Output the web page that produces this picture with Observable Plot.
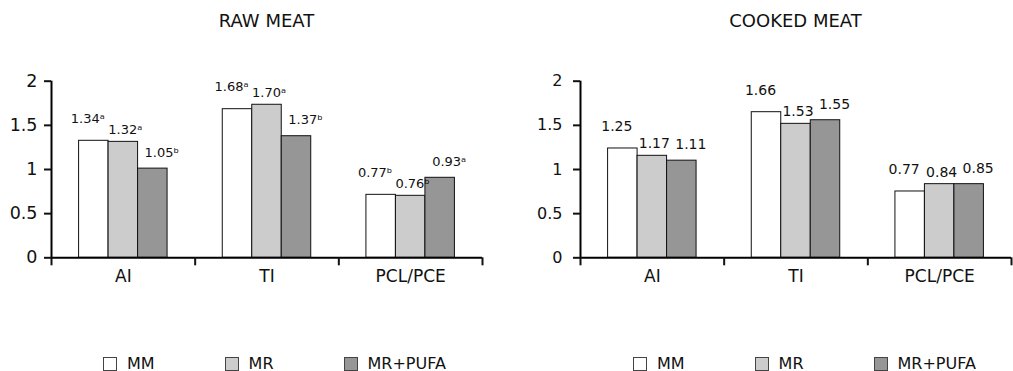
<!DOCTYPE html>
<html>
<head>
<meta charset="utf-8">
<script src="https://cdn.jsdelivr.net/npm/d3@7"></script>
<script src="https://cdn.jsdelivr.net/npm/@observablehq/plot@0.6"></script>
<style>
  html, body { margin: 0; padding: 0; background: #fff; }
  body { width: 1013px; height: 371px; position: relative; overflow: hidden; font-family: "DejaVu Sans", sans-serif; color: #111; }
  .panel { position: absolute; top: 0; height: 371px; }
  .title { position: absolute; top: 9px; left: 0; right: 0; text-align: center; font-size: 18px; line-height: 24px; white-space: nowrap; }
  .chart { position: absolute; top: 40px; left: 0; }
  .legend { position: absolute; top: 354px; display: flex; gap: 70px; font-size: 16px; line-height: 20px; white-space: nowrap; }
  .item { display: flex; align-items: center; }
  .sw { width: 12px; height: 12px; border: 1px solid #444; margin-right: 10px; box-sizing: content-box; }
</style>
</head>
<body>
<div id="root"></div>
<script>
// ---- data ----
const categories = ["AI", "TI", "PCL/PCE"];
const series = ["MM", "MR", "MR+PUFA"];
const seriesFills = ["#ffffff", "#cccccc", "#969696"];
const yTicks = [0, 0.5, 1, 1.5, 2];

// raw meat: bar heights
const rawMM = [1.325, 1.683, 0.713];
const rawMR = [1.313, 1.733, 0.702];
const rawPUFA = [1.01, 1.377, 0.906];
const rawLabelsMM = ["1.34ᵃ", "1.68ᵃ", "0.77ᵇ"];
const rawLabelsMR = ["1.32ᵃ", "1.70ᵃ", "0.76ᵇ"];
const rawLabelsPUFA = ["1.05ᵇ", "1.37ᵇ", "0.93ᵃ"];

// cooked meat
const cookedMM = [1.238, 1.649, 0.751];
const cookedMR = [1.155, 1.517, 0.834];
const cookedPUFA = [1.10, 1.558, 0.834];
const cookedLabelsMM = ["1.25", "1.66", "0.77"];
const cookedLabelsMR = ["1.17", "1.53", "0.84"];
const cookedLabelsPUFA = ["1.11", "1.55", "0.85"];

const panels = [
  {title: "RAW MEAT", values: [rawMM, rawMR, rawPUFA], labels: [rawLabelsMM, rawLabelsMR, rawLabelsPUFA],
   left: 0, width: 506, marginLeft: 51, marginRight: 24, tickPadding: 7, tickFont: 17.5, labelFont: 13, legendLeft: 103},
  {title: "COOKED MEAT", values: [cookedMM, cookedMR, cookedPUFA], labels: [cookedLabelsMM, cookedLabelsMR, cookedLabelsPUFA],
   left: 506, width: 507, marginLeft: 74, marginRight: 2, tickPadding: 11, tickFont: 16, labelFont: 14, legendLeft: 127}
];

const barW = 0.2053; // bar width in category units
const boundaries = [-0.5, 0.5, 1.5, 2.5];
// per-series label nudges (pixels), so neighbouring value labels do not collide
const labelDx = [-6, 2, 9];
const labelDy = [-22, -12, -16];
const root = document.getElementById("root");

for (const p of panels) {
  const rows = [];
  categories.forEach((c, i) => series.forEach((s, j) => rows.push({
    cat: c, i, j, series: s, value: p.values[j][i], label: p.labels[j][i]
  })));

  const div = document.createElement("div");
  div.className = "panel";
  div.style.left = p.left + "px";
  div.style.width = p.width + "px";
  root.appendChild(div);

  const t = document.createElement("div");
  t.className = "title";
  t.style.left = p.marginLeft + "px";
  t.style.right = p.marginRight + "px";
  t.textContent = p.title;
  div.appendChild(t);

  const labelMarks = series.map((s, j) => Plot.text(rows.filter(d => d.j === j), {
    x: d => d.i + (d.j - 1) * barW, y: "value", text: "label",
    dx: labelDx[j], dy: labelDy[j], fontSize: p.labelFont, fill: "#111"
  }));

  const chart = Plot.plot({
    width: p.width,
    height: 260,
    marginLeft: p.marginLeft,
    marginRight: p.marginRight,
    marginTop: 40.7,
    marginBottom: 42.7,
    x: {type: "linear", domain: [-0.5, 2.5], label: null},
    y: {domain: [0, 2], label: null},
    color: {domain: series, range: seriesFills},
    style: {fontFamily: "DejaVu Sans", background: "transparent", overflow: "visible", color: "#111"},
    marks: [
      Plot.rect(rows, {
        x1: d => d.i + (d.j - 1.5) * barW,
        x2: d => d.i + (d.j - 0.5) * barW,
        y1: 0, y2: "value",
        fill: "series", stroke: "#111", strokeWidth: 1
      }),
      ...labelMarks,
      Plot.ruleY([0], {stroke: "#000", strokeWidth: 2}),
      Plot.ruleX([-0.5], {stroke: "#000", strokeWidth: 2}),
      Plot.axisY({ticks: yTicks, tickSize: 7, tickPadding: p.tickPadding, tickFormat: d => String(d),
        fontSize: p.tickFont, strokeWidth: 2, label: null}),
      Plot.axisX({ticks: boundaries, tickSize: 8, tickFormat: () => "", strokeWidth: 2, label: null}),
      Plot.axisX({ticks: [0, 1, 2], tickSize: 0, tickPadding: 12, tickFormat: i => categories[i],
        fontSize: 17, label: null})
    ]
  });
  chart.classList.add("chart");
  div.appendChild(chart);

  const lg = document.createElement("div");
  lg.className = "legend";
  lg.style.left = (p.legendLeft) + "px";
  series.forEach((s, j) => {
    const it = document.createElement("div");
    it.className = "item";
    const sw = document.createElement("span");
    sw.className = "sw";
    sw.style.background = seriesFills[j];
    const tx = document.createElement("span");
    tx.textContent = s;
    it.appendChild(sw);
    it.appendChild(tx);
    lg.appendChild(it);
  });
  div.appendChild(lg);
}
</script>
</body>
</html>
